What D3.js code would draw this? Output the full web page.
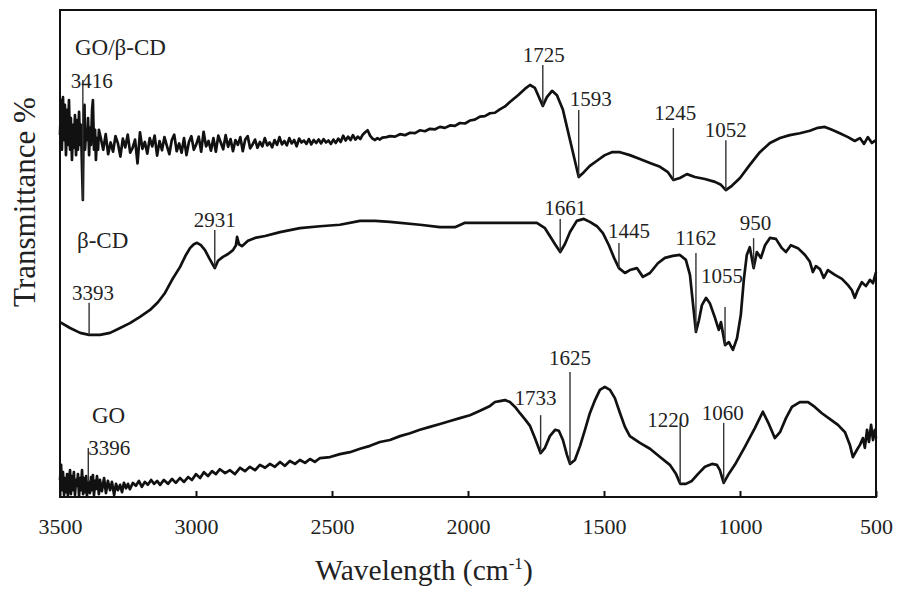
<!DOCTYPE html>
<html>
<head>
<meta charset="utf-8">
<script src="https://cdn.jsdelivr.net/npm/d3@7"></script>
<style>
  html, body { margin: 0; padding: 0; background: #fff; }
  svg { display: block; }
  text { font-family: "Liberation Serif", "Times New Roman", serif; fill: #222; }
</style>
</head>
<body>
<svg id="chart" width="907" height="593"></svg>
<script>
// FTIR spectra: [wavenumber (cm-1), transmittance (arb. offset %)]
const spectrumGoCd = [
  [3500,74.3],[3496,81.5],[3493,71.3],[3489,82.1],[3485,73.3],[3482,80.5],[3478,70.2],[3474,79.5],[3471,72.3],[3467,81.5],
  [3463,71.3],[3460,77.8],[3456,69.2],[3452,76.4],[3449,71.7],[3445,78.4],[3441,70.2],[3437,77.4],[3434,71.3],[3430,79.1],
  [3426,72.3],[3423,76.4],[3416,61.0],[3413,77.4],[3410,80.5],[3408,71.3],[3404,75.4],[3401,73.3],[3397,77.8],[3393,70.2],
  [3390,75.8],[3386,72.3],[3382,79.5],[3379,81.5],[3375,71.3],[3371,75.4],[3368,69.2],[3364,73.7],[3360,71.3],[3357,75.4],
  [3350,73.7],[3341,71.3],[3332,74.5],[3323,70.4],[3314,72.8],[3305,70.9],[3296,74.1],[3287,72.6],[3278,69.9],[3269,73.6],
  [3260,71.8],[3251,74.4],[3242,70.7],[3233,71.7],[3224,73.4],[3215,68.5],[3206,74.9],[3197,71.5],[3188,72.9],[3179,70.5],
  [3170,73.7],[3161,72.0],[3152,74.2],[3143,70.1],[3134,73.1],[3125,71.2],[3116,73.9],[3107,72.1],[3098,70.4],[3089,73.3],
  [3080,74.4],[3071,71.0],[3062,72.6],[3053,70.7],[3044,73.7],[3035,70.2],[3026,72.9],[3017,74.1],[3008,71.3],[2999,72.4],
  [2990,74.0],[2981,70.9],[2972,75.0],[2963,72.0],[2954,73.1],[2945,71.1],[2936,73.7],[2927,70.9],[2918,74.2],[2909,72.8],
  [2900,71.4],[2891,74.3],[2882,71.9],[2873,73.5],[2864,71.0],[2855,73.3],[2846,72.3],[2837,73.9],[2828,71.0],[2819,73.4],
  [2810,74.1],[2801,71.6],[2792,72.4],[2783,73.4],[2774,71.7],[2765,72.9],[2756,72.0],[2747,73.7],[2738,72.2],[2729,72.8],
  [2720,71.8],[2711,73.3],[2702,72.3],[2693,73.9],[2684,72.4],[2675,73.1],[2666,72.2],[2657,73.7],[2648,72.6],[2639,73.3],
  [2630,72.0],[2621,73.6],[2612,72.8],[2603,73.2],[2594,72.5],[2585,73.5],[2576,72.4],[2567,73.3],[2558,72.7],[2549,73.4],
  [2540,72.6],[2531,73.5],[2522,72.8],[2513,73.2],[2504,72.5],[2495,73.4],[2486,72.7],[2477,73.6],[2468,72.9],[2459,74.2],
  [2450,73.2],[2441,74.0],[2432,73.3],[2423,74.3],[2414,73.4],[2405,74.0],[2396,73.5],[2387,74.4],[2378,74.9],[2369,75.3],
  [2360,74.2],[2351,73.6],[2342,73.3],[2333,73.7],[2324,73.4],[2315,73.8],[2300,73.9],[2287,74.1],[2268,74.0],[2250,74.5],
  [2232,74.3],[2213,74.8],[2195,74.7],[2177,75.3],[2158,75.1],[2140,75.6],[2121,75.5],[2103,76.0],[2085,75.8],[2066,76.3],
  [2048,76.2],[2030,76.8],[2011,76.7],[1993,77.3],[1975,77.5],[1956,78.1],[1938,78.2],[1919,78.8],[1901,78.9],[1883,79.6],
  [1864,80.2],[1846,81.1],[1816,82.5],[1791,83.8],[1772,84.6],[1754,84.0],[1739,82.1],[1725,80.3],[1710,82.1],[1691,83.4],
  [1673,82.5],[1651,79.5],[1625,73.3],[1593,65.7],[1574,66.7],[1552,68.0],[1522,69.2],[1497,70.2],[1471,70.8],[1441,70.8],
  [1405,70.2],[1368,69.4],[1331,68.6],[1294,67.8],[1265,66.7],[1245,65.1],[1221,65.5],[1195,66.3],[1166,65.7],[1129,65.3],
  [1092,64.7],[1070,64.1],[1052,63.0],[1030,63.9],[1000,65.5],[964,68.2],[927,70.8],[890,72.7],[853,73.7],[817,74.3],
  [780,74.7],[743,75.2],[714,75.8],[688,76.0],[662,75.4],[633,74.7],[603,73.9],[578,73.1],[559,73.7],[544,72.5],
  [530,73.9],[515,72.7],[500,73.3]
];

const spectrumCd = [
  [3500,35.9],[3463,34.7],[3426,33.7],[3393,33.3],[3353,33.3],[3316,33.7],[3279,34.7],[3243,35.7],[3206,37.0],[3169,38.4],
  [3140,40.0],[3114,41.9],[3088,44.6],[3059,47.2],[3037,49.7],[3022,51.1],[3008,51.9],[2996,52.2],[2982,51.7],[2967,50.7],
  [2952,49.1],[2931,47.0],[2919,48.5],[2901,49.3],[2882,49.9],[2864,50.7],[2853,51.7],[2849,53.4],[2842,51.9],[2831,51.5],
  [2809,52.6],[2783,53.2],[2746,53.6],[2691,54.4],[2618,55.2],[2544,55.6],[2471,55.9],[2397,56.7],[2342,56.7],[2287,56.5],
  [2177,55.9],[2103,55.4],[2048,55.4],[2011,56.3],[1883,56.3],[1747,56.3],[1717,55.2],[1699,53.6],[1680,51.9],[1661,50.3],
  [1644,51.9],[1625,54.4],[1600,56.7],[1574,57.1],[1552,56.5],[1526,55.6],[1504,54.2],[1482,51.7],[1463,49.1],[1445,47.0],
  [1423,46.0],[1405,46.6],[1379,47.0],[1357,45.2],[1331,46.0],[1302,48.0],[1276,49.1],[1247,49.5],[1221,49.7],[1199,48.7],
  [1184,45.6],[1162,33.9],[1151,36.3],[1140,39.4],[1125,40.9],[1111,39.8],[1092,36.8],[1078,34.3],[1070,35.9],[1055,31.2],
  [1041,31.8],[1026,30.2],[1011,32.6],[997,37.4],[986,44.6],[975,49.7],[964,51.3],[950,47.0],[938,50.3],[923,49.1],
  [908,51.7],[890,53.2],[868,53.0],[846,51.1],[831,50.3],[813,51.7],[787,51.1],[761,49.7],[743,48.3],[732,46.2],
  [721,47.4],[706,46.8],[692,45.0],[677,46.6],[651,45.6],[625,44.8],[603,43.5],[589,42.5],[578,40.9],[567,42.5],
  [552,44.1],[537,43.3],[522,44.6],[511,43.9],[500,46.2]
];

const spectrumGo = [
  [3500,3.5],[3496,6.6],[3493,1.4],[3489,5.1],[3485,0.4],[3482,3.9],[3478,1.0],[3474,4.7],[3471,0.2],[3467,3.5],
  [3463,5.5],[3460,0.6],[3456,4.3],[3452,1.4],[3449,5.1],[3445,0.4],[3441,3.5],[3437,2.3],[3434,4.7],[3430,0.2],
  [3426,3.9],[3423,1.4],[3419,5.5],[3415,0.6],[3412,3.9],[3408,1.0],[3404,4.3],[3401,0.2],[3396,3.1],[3390,0.8],
  [3386,4.1],[3382,1.4],[3379,4.5],[3375,0.4],[3371,3.3],[3368,1.6],[3364,4.3],[3357,0.6],[3353,3.5],[3346,1.2],
  [3338,3.9],[3331,0.8],[3324,3.3],[3316,1.4],[3309,3.1],[3301,0.4],[3294,2.7],[3287,1.4],[3279,2.5],[3272,1.0],
  [3265,2.9],[3257,1.8],[3250,2.7],[3243,1.6],[3232,2.9],[3221,2.3],[3210,3.3],[3199,2.1],[3188,3.1],[3177,2.5],
  [3165,3.5],[3154,2.7],[3143,3.3],[3132,2.5],[3118,3.5],[3103,2.7],[3088,3.7],[3074,2.9],[3059,3.9],[3044,3.1],
  [3029,4.1],[3015,3.5],[3000,4.7],[2985,3.9],[2971,5.1],[2956,4.3],[2941,5.3],[2927,4.7],[2912,5.7],[2893,4.9],
  [2875,5.5],[2857,4.7],[2838,6.0],[2820,5.3],[2802,6.2],[2783,5.5],[2765,6.6],[2746,6.0],[2728,6.8],[2710,6.2],
  [2691,7.2],[2673,6.4],[2655,7.4],[2636,6.8],[2618,7.6],[2599,7.0],[2581,7.8],[2563,7.2],[2544,8.0],[2507,8.2],
  [2471,8.8],[2434,9.2],[2397,9.9],[2360,10.5],[2324,11.3],[2287,11.7],[2250,12.5],[2213,13.1],[2177,13.8],[2140,14.4],
  [2103,15.0],[2066,15.6],[2030,16.2],[1993,16.8],[1956,17.7],[1919,18.7],[1901,19.5],[1883,19.7],[1864,19.9],[1846,19.5],
  [1827,18.5],[1809,17.2],[1791,16.0],[1772,14.6],[1754,12.1],[1733,9.0],[1717,10.1],[1699,12.5],[1680,13.8],[1666,13.6],
  [1651,11.7],[1636,8.6],[1625,6.8],[1607,7.6],[1588,10.5],[1570,13.8],[1552,17.2],[1533,19.9],[1515,22.0],[1497,22.6],
  [1478,22.0],[1460,20.3],[1441,17.2],[1423,14.4],[1405,12.5],[1368,11.1],[1331,9.9],[1294,8.2],[1258,6.6],[1235,4.7],
  [1220,2.7],[1199,2.7],[1177,3.3],[1155,4.7],[1129,6.2],[1103,6.8],[1085,6.6],[1074,5.5],[1060,2.9],[1044,4.5],
  [1019,6.6],[982,10.3],[945,14.2],[916,17.5],[894,15.0],[872,12.1],[853,13.3],[831,16.2],[809,18.5],[780,19.5],
  [750,19.5],[725,18.5],[699,17.2],[669,16.0],[640,14.8],[614,13.3],[596,10.7],[585,8.2],[570,9.7],[559,10.7],
  [548,12.1],[541,10.1],[533,13.8],[526,11.3],[518,14.8],[511,11.7],[504,13.8],[500,12.1]
];

// Series names and the band positions labelled on each trace
const seriesNames = ["GO/β-CD", "β-CD", "GO"];
const peaksGoCd = [3416, 1725, 1593, 1245, 1052];
const peaksCd = [3393, 2931, 1661, 1445, 1162, 1055, 950];
const peaksGo = [3396, 1733, 1625, 1220, 1060];

// Axis ticks and titles
const xTicks = [3500, 3000, 2500, 2000, 1500, 1000, 500];
const xTitle = "Wavelength (cm";
const xTitleSup = "-1";
const yTitle = "Transmittance %";

// ---- layout ----
const width = 907, height = 593;
const margin = { left: 60, right: 31, top: 10, bottom: 96 };
const plotR = width - margin.right, plotB = height - margin.bottom;

const x = d3.scaleLinear().domain([3500, 500]).range([margin.left, plotR]);
const y = d3.scaleLinear().domain([0, 100]).range([plotB, margin.top]);

const svg = d3.select("#chart");

// Pointer length / label offset for each band annotation (px)
const annLayout = {
  "GO/β-CD": { 3416: [120, 9, 8], 1725: [41, 1, -3], 1593: [67, 12, -4], 1245: [52, 2, -8], 1052: [50, 0, -3] },
  "β-CD": { 3393: [32, 4, -3], 2931: [38, 0, -3], 1661: [33, 5, -4], 1445: [25, 10, -5], 1162: [79, 0, -8], 1055: [38, -3, -24], 950: [30, 2, -8] },
  "GO": { 3396: [34, 21, 7], 1733: [38, -5, -10], 1625: [92, 0, -7], 1220: [61, -12, 4], 1060: [60, -1, -3] }
};
// Series name placement: [left x, baseline y]
const nameLayout = { "GO/β-CD": [75, 55], "β-CD": [77, 248], "GO": [92, 423] };

const series = [
  { name: seriesNames[0], data: spectrumGoCd, peaks: peaksGoCd },
  { name: seriesNames[1], data: spectrumCd, peaks: peaksCd },
  { name: seriesNames[2], data: spectrumGo, peaks: peaksGo }
];

const line = d3.line().x(d => x(d[0])).y(d => y(d[1]));

// Value of a (descending-wavenumber) spectrum at a given wavenumber
function valueAt(data, w) {
  for (let i = 0; i < data.length - 1; i++) {
    const a = data[i], b = data[i + 1];
    if (w <= a[0] && w >= b[0]) {
      const t = (a[0] - w) / (a[0] - b[0]);
      return a[1] + t * (b[1] - a[1]);
    }
  }
  return data[data.length - 1][1];
}

// Spectra
svg.append("g").selectAll("path").data(series).join("path")
  .attr("d", d => line(d.data))
  .attr("fill", "none")
  .attr("stroke", "#111")
  .attr("stroke-width", 2.7)
  .attr("stroke-linejoin", "round");

// Band annotations
series.forEach(s => {
  const g = svg.append("g");
  s.peaks.forEach(p => {
    const [lift, dx, dy] = annLayout[s.name][p];
    const px = x(p), py = y(valueAt(s.data, p));
    g.append("line")
      .attr("x1", px).attr("x2", px)
      .attr("y1", py).attr("y2", py - lift)
      .attr("stroke", "#333").attr("stroke-width", 1.4);
    g.append("text")
      .attr("x", px + dx).attr("y", py - lift + dy)
      .attr("text-anchor", "middle")
      .attr("font-size", 21)
      .text(p);
  });
  const [nx, ny] = nameLayout[s.name];
  g.append("text").attr("x", nx).attr("y", ny).attr("font-size", 23).text(s.name);
});

// Frame
svg.append("rect")
  .attr("x", margin.left).attr("y", margin.top)
  .attr("width", plotR - margin.left).attr("height", plotB - margin.top)
  .attr("fill", "none").attr("stroke", "#111").attr("stroke-width", 2);

// Bottom axis with inward ticks
const xAxis = d3.axisBottom(x).tickValues(xTicks).tickSizeInner(-6).tickSizeOuter(0).tickPadding(21)
  .tickFormat(d3.format("d"));
const ax = svg.append("g").attr("transform", `translate(0,${plotB})`).call(xAxis);
ax.select(".domain").remove();
ax.selectAll(".tick line").attr("stroke", "#111").attr("stroke-width", 2);
ax.selectAll(".tick text").attr("font-size", 22).attr("fill", "#222");

// Axis titles
const xt = svg.append("text")
  .attr("x", 424).attr("y", 580)
  .attr("text-anchor", "middle")
  .attr("font-size", 29.5);
xt.append("tspan").text(xTitle);
xt.append("tspan").attr("font-size", 17).attr("dy", -11).text(xTitleSup);
xt.append("tspan").attr("dy", 11).text(")");

svg.append("text")
  .attr("transform", `translate(35,202) rotate(-90)`)
  .attr("text-anchor", "middle")
  .attr("font-size", 31)
  .text(yTitle);
</script>
</body>
</html>
